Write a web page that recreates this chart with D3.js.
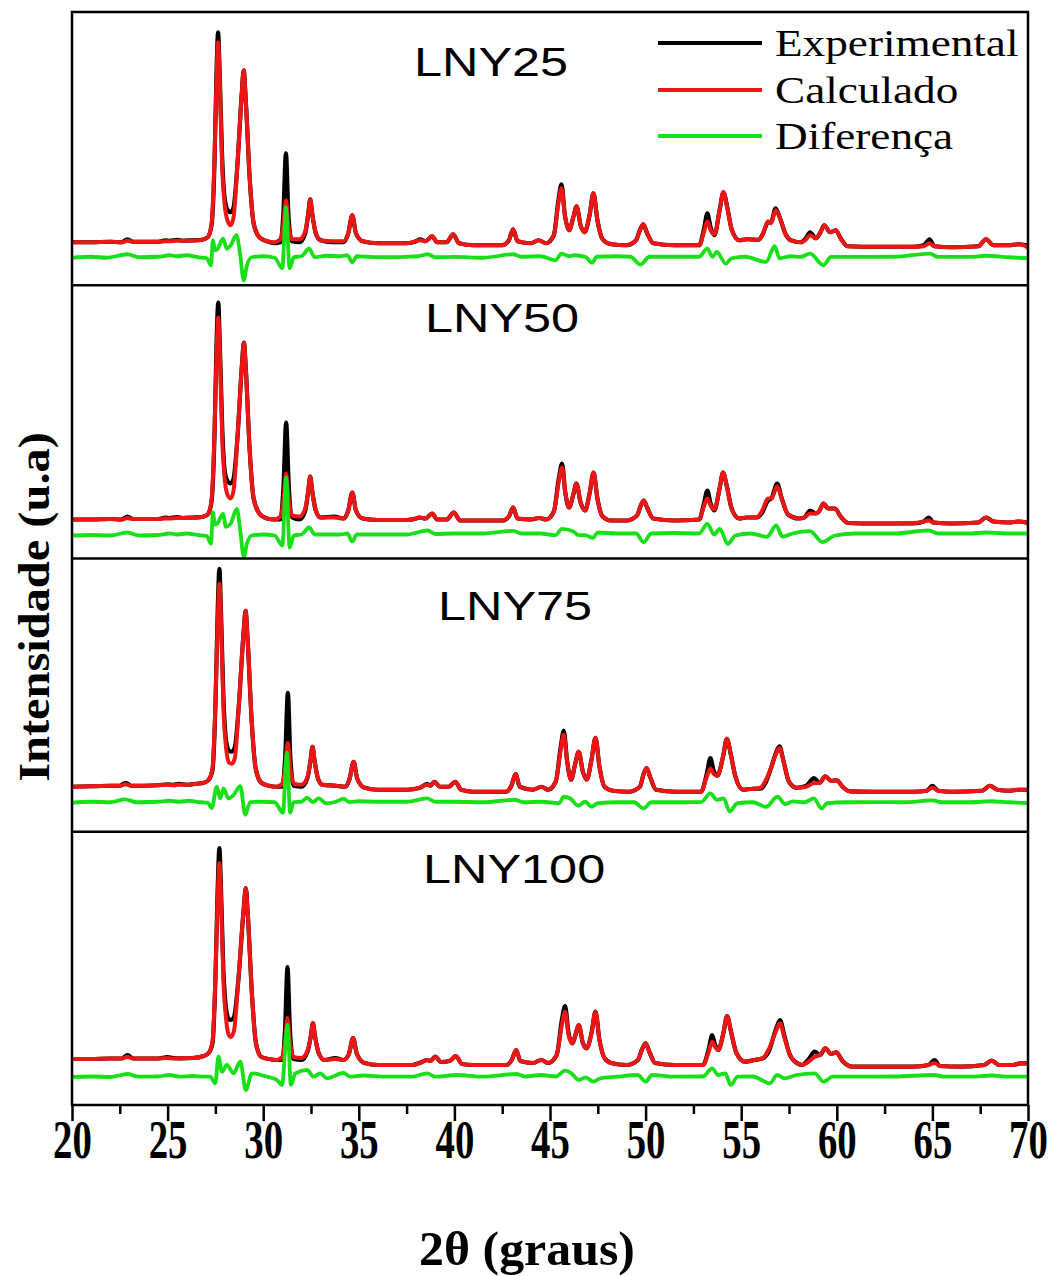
<!DOCTYPE html>
<html>
<head>
<meta charset="utf-8">
<script src="https://cdn.jsdelivr.net/npm/d3@7"></script>
<style>
  body { margin: 0; background: #fff; }
  svg { display: block; }
</style>
</head>
<body>
<svg id="chart" width="1060" height="1276"></svg>
<script>
// ---- Data: Rietveld refinement profiles, [2θ, observed, calculated] in a.u. ----
const samples = ["LNY25", "LNY50", "LNY75", "LNY100"];
const seriesNames = ["Experimental", "Calculado", "Diferença"];
const xTicks = [20, 25, 30, 35, 40, 45, 50, 55, 60, 65, 70];
const xMinorTicks = [22.5, 27.5, 32.5, 37.5, 42.5, 47.5, 52.5, 57.5, 62.5, 67.5];

const lny25Profile = [
  [20.0,43,43],[21.0,43,43],[22.0,43.5,43.5],[22.6,43,43],[22.9,46,44.5],[23.2,43.5,43.5],[24.5,43.5,43.5],
  [24.9,45,44],[25.1,44.5,44],[25.5,45.5,44.5],[25.8,44.5,44.5],[26.3,45,44.5],[26.8,45.5,45.5],[27.1,48,48],
  [27.3,60,62],[27.45,120,125],[27.56,215,205],[27.64,253,243],[27.72,215,210],[27.85,130,120],[28.0,85,78],
  [28.15,75,64],[28.3,73,60],[28.45,78,68],[28.65,120,120],[28.88,192,192],[28.98,215,215],[29.08,188,188],
  [29.3,105,105],[29.5,62,62],[29.8,48,48],[30.2,44,44],[30.6,42,43],[30.9,43,46],[31.05,70,60],[31.19,132,85],
  [31.32,70,60],[31.5,44,46],[31.9,43,46],[32.2,52,54],[32.36,72,72],[32.46,86,86],[32.56,72,72],[32.75,52,52],
  [33.0,45,45],[33.6,43,44],[34.2,43,44],[34.45,52,52],[34.66,70,70],[34.85,52,52],[35.2,44,44],[36.0,42,42],
  [37.5,42,42],[38.0,44,44],[38.2,46,45],[38.5,44,44],[38.83,49,49],[39.1,43,43],[39.6,43,43],[39.93,51,51],
  [40.25,42,42],[41.0,40,40],[42.5,40,40],[42.85,45,45],[43.07,56,56],[43.3,44,44],[44.0,42,42],[44.4,45,45],
  [44.8,42,42],[45.2,50,50],[45.44,85,82],[45.6,101,97],[45.78,70,70],[46.0,55,55],[46.22,68,68],[46.39,79,79],
  [46.6,60,60],[46.8,53,53],[47.07,70,70],[47.27,92,92],[47.48,65,65],[47.75,46,46],[48.2,41,41],[49.0,40,40],
  [49.5,45,45],[49.72,56,56],[49.88,61,61],[50.08,52,52],[50.4,42,42],[51.5,40,40],[52.8,40,40],[53.05,56,53],
  [53.23,72,64],[53.4,58,55],[53.6,50,51],[53.87,75,75],[54.07,93,93],[54.27,78,78],[54.5,56,56],[54.9,45,45],
  [55.3,46,46],[55.9,45.5,45.5],[56.15,52,52],[56.4,63,64],[56.56,63,62],[56.8,77,75],[57.05,66,66],
  [57.3,52,52],[57.6,45,45],[58.1,43,43],[58.35,46,45],[58.6,53,50],[58.9,47,47],[59.12,52,52],[59.34,60,60],
  [59.65,53,53],[59.95,55,55],[60.2,47,47],[60.56,39,39],[62.0,38.5,38.5],[64.0,38.5,38.5],[64.55,40,39],
  [64.85,46,42],[65.1,39,39],[66.0,38,38],[67.4,39,39],[67.8,46,46],[68.2,40,40],[69.0,40,40],[69.5,41,41],
  [69.9,40,39],[70.0,38,37]
];
const lny25Diff = [
  [20.0,27.5],[21.0,28.5],[21.8,27.5],[22.9,31],[23.5,28],[24.5,28.5],[25.1,30],[25.5,29],[26.0,30],[26.6,28],
  [27.05,27],[27.27,20],[27.37,45],[27.48,35],[27.6,36],[27.9,46.5],[28.1,36.5],[28.3,40],[28.6,50],[28.8,30],
  [28.98,5],[29.15,20],[29.4,28],[30.0,29],[30.6,27.5],[31.0,17],[31.19,78],[31.38,17],[31.6,28],[32.0,29],
  [32.4,36.5],[32.7,28],[33.3,29.5],[34.0,29],[34.4,30],[34.66,23],[34.9,29],[35.5,28.5],[36.5,28],[37.5,28.5],
  [38.1,29],[38.6,31],[39.0,28],[40.0,28.3],[41.5,27.5],[43.07,31],[43.5,28.5],[44.5,29],[45.29,25],[45.6,31.7],
  [46.0,29],[46.25,30],[46.86,28.3],[47.2,22.3],[47.45,28.5],[48.5,29],[49.2,28.5],[49.74,20.7],[50.2,28.5],
  [51.5,28.5],[52.8,28.5],[53.23,36.7],[53.5,28.5],[53.72,33.3],[54.19,21.7],[54.5,27],[55.2,28.5],[56.3,23.3],
  [56.75,39],[57.0,27],[57.6,29],[58.1,28.3],[58.6,31.7],[59.3,20],[59.7,28.3],[61.0,28.3],[63.0,28.5],
  [64.85,31.7],[65.3,28.3],[67.0,28.3],[67.8,29.5],[69.0,28],[70.0,27]
];

const lny50Profile = [
  [20.0,39,39],[21.0,39,39],[22.0,39.5,39.5],[22.6,39,39],[22.9,42,40.5],[23.2,39.5,39.5],[24.5,39.5,39.5],
  [24.9,41,40],[25.1,40.5,40],[25.5,41.5,40.5],[25.8,40.5,40.5],[26.3,41,40.5],[26.8,41.5,41.5],[27.1,44,44],
  [27.3,57,59],[27.45,120,124],[27.56,216,204],[27.65,256,241],[27.73,216,208],[27.86,130,118],[28.0,86,77],
  [28.15,77,63],[28.3,75,60],[28.45,80,68],[28.65,120,120],[28.89,194,194],[28.99,216,216],[29.09,190,190],
  [29.3,106,106],[29.5,60,60],[29.8,45,45],[30.2,40,40],[30.6,39,39],[30.9,39,42],[31.06,72,58],[31.2,136,85],
  [31.34,72,58],[31.52,41,43],[31.9,39,42],[32.2,48,50],[32.36,68,68],[32.46,82,82],[32.56,68,68],[32.75,48,48],
  [33.0,41,41],[33.7,42,41],[34.2,40,40],[34.45,48,48],[34.66,66,66],[34.85,48,48],[35.2,40,40],[36.0,38.5,38.5],
  [37.5,38.5,38.5],[38.0,40,40],[38.15,41,41],[38.5,40,40],[38.83,45,45],[39.1,39,39],[39.6,39,39],[39.97,46,46],
  [40.3,38,38],[41.0,38,38],[42.5,38,38],[42.85,42,42],[43.07,51,51],[43.3,40,40],[44.0,39,39],[44.43,40.5,40.5],
  [44.8,39,39],[45.2,47,47],[45.46,80,77],[45.63,95,91],[45.8,66,66],[46.0,51,51],[46.22,64,64],[46.38,75,75],
  [46.6,56,56],[46.84,48,48],[47.07,65,65],[47.28,86,86],[47.48,60,60],[47.75,42,42],[48.2,38,38],[49.0,38,38],
  [49.55,43,43],[49.75,53,53],[49.9,58,58],[50.1,50,50],[50.4,40,40],[51.5,38,38],[52.8,39,39],[53.05,55,52],
  [53.23,68,60],[53.4,55,53],[53.59,48,49],[53.87,70,70],[54.05,86,86],[54.25,72,72],[54.5,50,50],[54.9,40,40],
  [55.3,41,41],[55.8,41,41],[56.1,46,48],[56.4,58,60],[56.58,60,60],[56.88,75,72],[57.12,60,60],[57.45,44,44],
  [58.0,40,40],[58.3,41,41],[58.6,48,45],[58.9,45,45],[59.1,48,48],[59.3,55,55],[59.55,50,50],[59.9,50,50],
  [60.2,42,42],[60.6,35.5,35.5],[62.0,35,35],[64.0,35,35.5],[64.55,37,37],[64.8,41,38],[65.05,36,36],[66.0,35,35],
  [67.4,36,36],[67.8,41,41],[68.2,37,37],[69.0,36,36],[69.5,37,37],[69.9,36,36],[70.0,35,35]
];
const lny50Diff = [
  [20.0,23],[21.0,23.5],[22.0,23],[22.9,26],[23.5,23],[24.5,23.5],[25.1,25],[25.5,24],[26.0,25],[26.6,23.5],
  [27.05,22.5],[27.27,14.7],[27.37,46],[27.48,34],[27.6,35],[27.9,44.7],[28.05,31.7],[28.3,35],[28.62,49.7],
  [28.8,28],[28.98,1.7],[29.15,15],[29.4,23],[30.0,24],[30.6,23],[31.0,13],[31.2,81],[31.38,11],[31.6,23],
  [32.0,24],[32.4,31],[32.7,24],[33.3,24],[34.0,24],[34.4,25],[34.66,17],[34.9,24],[35.5,24],[36.5,24],[37.5,24],
  [38.6,28],[39.0,24.5],[40.0,25],[41.5,25],[43.07,27.7],[43.5,25],[44.5,25],[45.28,23.3],[45.63,29.7],
  [46.2,27.3],[46.5,23.3],[46.84,23.3],[47.24,20.7],[47.5,26],[48.5,25],[49.5,25],[49.9,16.3],[50.3,25],
  [51.5,25.5],[52.8,25],[53.23,34.7],[53.59,24],[53.88,29.7],[54.3,14.7],[54.7,23],[55.5,25],[56.35,21.7],
  [56.83,33],[57.15,22],[57.7,25],[58.6,27.3],[59.25,16.3],[59.9,23],[61.0,25],[63.0,25],[64.8,28],[65.3,25],
  [67.0,25],[67.8,26],[69.0,25],[70.0,25]
];

const lny75Profile = [
  [20.0,45,45],[21.0,45.5,45.5],[22.0,46,46],[22.5,46,46],[22.8,49,47.5],[23.1,46,46],[24.5,46.5,46.5],
  [25.0,47.5,47],[25.3,47,46.5],[25.6,48,47],[26.0,47,47],[26.5,48,48],[26.9,49,49],[27.15,52,52],[27.35,62,64],
  [27.5,125,128],[27.62,222,210],[27.71,263,248],[27.79,222,214],[27.92,135,124],[28.07,90,82],[28.22,81,69],
  [28.36,80,68],[28.52,85,74],[28.72,125,125],[28.97,198,198],[29.08,221,221],[29.18,194,194],[29.4,110,110],
  [29.6,64,64],[29.9,49,49],[30.3,46,46],[30.7,45,45],[31.0,45,48],[31.15,75,63],[31.29,139,89],[31.42,75,63],
  [31.6,46,48],[32.0,45,47],[32.32,54,55],[32.48,72,72],[32.58,85,85],[32.68,72,72],[32.87,53,53],[33.1,47,47],
  [33.8,46,46],[34.3,45,45],[34.52,53,53],[34.73,70,70],[34.92,53,53],[35.3,44,44],[36.0,42,42],[37.5,42,42],
  [38.2,44,44],[38.57,48,47],[38.75,46,46],[38.95,50,50],[39.25,45,45],[39.7,45,45],[40.05,50,50],[40.35,42,42],
  [41.0,40,40],[42.7,40,40],[42.98,46,46],[43.2,57.7,57.7],[43.42,45,45],[44.1,42,42],[44.55,45,45],[44.9,42,42],
  [45.3,50,50],[45.56,85,82],[45.72,101,97],[45.9,70,70],[46.1,52,52],[46.32,68,68],[46.5,80,80],[46.72,60,60],
  [46.92,52,52],[47.17,72,72],[47.38,94,94],[47.58,66,66],[47.85,45,45],[48.3,41,41],[49.1,40,40],[49.7,45,45],
  [49.9,58,58],[50.05,63.7,63.7],[50.25,54,54],[50.55,42,42],[51.6,40,40],[52.9,40,40],[53.2,58,55],
  [53.39,73.7,63],[53.56,61,58],[53.75,56,56],[54.05,75,75],[54.25,93,93],[54.45,78,78],[54.7,55,55],
  [55.1,42,42],[55.6,43,43],[56.0,43,44],[56.3,50,52],[56.6,66,66],[56.8,78,77],[57.0,85.3,83.7],[57.22,70,70],
  [57.5,50,50],[57.9,44,44],[58.4,46,45],[58.8,53.7,48.7],[59.1,49,49],[59.4,55.3,55.3],[59.7,51,51],
  [60.0,51.3,51.3],[60.3,45,45],[60.7,40.3,40.3],[62.0,40,40],[64.0,40,40],[64.7,41,41],[65.0,46,44],
  [65.3,41,41],[66.0,40,40],[67.6,41,41],[68.0,46,46],[68.4,42,42],[69.0,41,41],[69.5,42,42],[69.9,42,42],
  [70.0,41,41]
];
const lny75Diff = [
  [20.0,29],[21.0,30],[22.0,29.5],[22.77,32.3],[23.4,29.5],[24.5,30],[25.1,31],[25.6,30],[26.1,31],[26.7,29.5],
  [27.1,29],[27.31,23.7],[27.57,45],[27.75,33.3],[27.92,43.3],[28.18,33.3],[28.45,36.7],[28.8,45.7],[29.06,17],
  [29.32,29.7],[30.0,30],[30.6,29.5],[31.03,19],[31.24,79],[31.41,19],[31.6,29.7],[32.0,30],[32.29,34],
  [32.6,29.7],[32.9,33.3],[33.3,28.3],[33.8,30],[34.2,33],[34.5,29.7],[35.0,30.5],[36.0,30],[37.5,30],
  [38.57,33.3],[39.0,30],[40.0,30],[41.5,29.5],[43.17,32],[43.6,29.5],[44.6,30],[45.47,28.5],[45.72,35],
  [46.08,33],[46.48,26],[46.84,30],[47.18,25],[47.48,28.5],[48.5,29.5],[49.4,29.5],[49.89,23.3],[50.3,29.5],
  [51.5,29.5],[52.9,29.7],[53.39,38.3],[53.73,32],[54.09,33.3],[54.39,20.3],[54.8,28.5],[55.6,29.5],[56.3,25],
  [56.9,35],[57.3,27.7],[57.7,30.3],[58.3,29.5],[58.8,33.3],[59.2,23.3],[59.5,28.5],[60.5,29.5],[62.0,29.7],
  [63.5,29.5],[65.0,31.3],[65.5,29.5],[67.0,29.5],[68.0,30.5],[69.0,29.5],[70.0,28.7]
];

const lny100Profile = [
  [20.0,46,46],[21.0,46,46],[22.0,46.5,46.5],[22.6,46.5,46.5],[22.9,50,48],[23.2,46.5,46.5],[24.5,46.5,46.5],
  [25.0,48,47],[25.3,47,46.5],[25.65,46.7,46.7],[26.3,47,47],[26.9,49,49],[27.15,52,52],[27.35,62,64],
  [27.5,125,128],[27.62,218,207],[27.71,257,242],[27.79,218,208],[27.92,135,124],[28.07,95,84],[28.2,86,70],
  [28.3,85,68],[28.47,88,74],[28.7,125,125],[28.98,196,196],[29.09,217,217],[29.19,192,192],[29.42,108,108],
  [29.62,62,62],[29.9,48,48],[30.3,46,46],[30.7,45,45],[31.0,45,48],[31.14,75,63],[31.27,138,87],[31.4,75,63],
  [31.58,46,48],[32.0,45,47],[32.33,54,55],[32.5,70,70],[32.6,82,82],[32.7,70,70],[32.9,52,52],[33.2,45,45],
  [33.77,47,46],[34.2,45,45],[34.48,51,51],[34.7,67,67],[34.9,51,51],[35.3,42,42],[36.0,40,40],[37.8,40,40],
  [38.3,43,43],[38.57,45,45],[38.75,44,44],[39.0,48.3,48.3],[39.3,43,43],[39.75,44,44],[40.07,49,49],
  [40.4,41,41],[41.0,40,40],[42.7,40,40],[43.0,45,45],[43.23,55,55],[43.45,44,44],[44.1,42,42],[44.54,45,45],
  [44.9,42,42],[45.35,50,50],[45.62,85,80],[45.79,99,93.3],[45.97,72,70],[46.18,61.7,61.7],[46.33,70,70],
  [46.5,80,80],[46.72,62,62],[46.92,56.7,56.7],[47.17,72,72],[47.38,93.3,93.3],[47.58,66,66],[47.85,47,47],
  [48.2,42,42],[49.0,40,40],[49.6,45,45],[49.82,56,56],[50.0,61.7,61.7],[50.2,53,53],[50.5,42,42],[51.5,40,40],
  [53.0,40,40],[53.3,56,53],[53.48,70,63.3],[53.64,60,58],[53.8,55,55],[54.07,72,72],[54.26,89,89],
  [54.46,74,74],[54.75,52,52],[55.2,43.3,43.3],[55.7,45,45],[56.13,46.7,47],[56.45,54,56],[56.82,76,74],
  [57.03,85,81.7],[57.25,70,68],[57.55,50,50],[58.0,41,41],[58.19,40,40],[58.5,45,43],[58.84,53.3,48.3],
  [59.12,50,50],[59.4,56.7,56.7],[59.7,51,51],[59.97,52.7,52.7],[60.3,44,44],[60.81,38.3,38.3],[62.0,38.3,38.3],
  [64.0,38.3,38.3],[64.8,40,40],[65.11,45,42],[65.4,39,39],[66.5,38.3,38.3],[67.7,40,40],[68.1,44.3,44.3],
  [68.5,40,40],[69.2,40,40],[69.6,41.7,41.7],[70.0,41.7,41.7]
];
const lny100Diff = [
  [20.0,28],[21.0,28.5],[22.0,28],[22.9,31],[23.5,28.3],[24.5,28.5],[25.1,30],[25.65,28.3],[26.3,29],[26.9,28.3],
  [27.23,28.3],[27.49,21.7],[27.66,48.3],[27.84,33.3],[28.1,40],[28.45,31.7],[28.8,43.3],[29.09,15],[29.41,31.7],
  [30.19,28.3],[30.72,25],[30.98,20],[31.27,80],[31.45,20],[31.68,31.7],[32.29,35],[32.64,28.3],[32.98,31.7],
  [33.33,26.7],[34.2,32],[34.55,28.3],[35.2,29.5],[36.5,28.3],[37.8,28.3],[38.57,31.7],[39.0,28.3],[40.14,30],
  [41.5,28.3],[43.23,31],[43.7,28.5],[44.54,30],[45.3,28.5],[45.79,34.3],[46.12,31.7],[46.5,25],[46.88,27.7],
  [47.26,23.3],[47.62,26.7],[48.5,28.3],[49.59,30],[50.0,23.3],[50.34,30],[51.5,28.3],[53.0,28.5],[53.48,36.7],
  [53.8,30],[54.17,31.7],[54.45,20],[54.82,28.3],[55.6,28.5],[56.5,21.7],[56.88,30],[57.26,26.7],[57.91,30],
  [58.84,31.7],[59.31,23.3],[59.78,28.3],[61.0,28.3],[63.0,28.5],[65.11,30],[65.6,28.3],[67.0,28.3],[68.1,29.5],
  [69.0,28.3],[70.0,28.3]
];

const profiles = [lny25Profile, lny50Profile, lny75Profile, lny100Profile];
const differences = [lny25Diff, lny50Diff, lny75Diff, lny100Diff];
const intensityMax = 273.25;

// ---- Layout & styles ----
const frame = { left: 72, right: 1028, top: 12, bottom: 1105 };
const colors = { obs: "#000000", calc: "#ee1515", diff: "#18e018" };
const serif = "'Liberation Serif', 'Times New Roman', serif";
const sans = "'Liberation Sans', Arial, sans-serif";

const svg = d3.select("#chart");

const x = d3.scaleLinear().domain([20, 70]).range([frame.left, frame.right]);
const band = d3.scaleBand().domain(samples).range([frame.top, frame.bottom]).padding(0);

const labelPos = {
  LNY25: { x: 414, y: 76 },
  LNY50: { x: 425, y: 332 },
  LNY75: { x: 438, y: 620 },
  LNY100: { x: 423, y: 883 }
};

samples.forEach((name, i) => {
  const top = band(name);
  const bottom = top + band.bandwidth();
  const y = d3.scaleLinear().domain([0, intensityMax]).range([bottom, top]);

  const clipId = "clip-" + name;
  svg.append("clipPath").attr("id", clipId)
    .append("rect")
    .attr("x", frame.left).attr("y", top)
    .attr("width", frame.right - frame.left).attr("height", bottom - top);

  const g = svg.append("g").attr("clip-path", `url(#${clipId})`);

  const obsLine = d3.line().x(d => x(d[0])).y(d => y(d[1])).curve(d3.curveMonotoneX);
  const calcLine = d3.line().x(d => x(d[0])).y(d => y(d[2])).curve(d3.curveMonotoneX);
  const diffLine = d3.line().x(d => x(d[0])).y(d => y(d[1])).curve(d3.curveMonotoneX);

  g.append("path").datum(profiles[i]).attr("d", obsLine)
    .attr("fill", "none").attr("stroke", colors.obs).attr("stroke-width", 4.2)
    .attr("stroke-linejoin", "round");
  g.append("path").datum(profiles[i]).attr("d", calcLine)
    .attr("fill", "none").attr("stroke", colors.calc).attr("stroke-width", 4)
    .attr("stroke-linejoin", "round");
  g.append("path").datum(differences[i]).attr("d", diffLine)
    .attr("fill", "none").attr("stroke", colors.diff).attr("stroke-width", 3.8)
    .attr("stroke-linejoin", "round");

  // sample label
  const lp = labelPos[name];
  svg.append("text")
    .attr("transform", `translate(${lp.x},${lp.y}) scale(1.23,1)`)
    .attr("font-family", sans).attr("font-size", 41)
    .attr("fill", "#000")
    .text(name);

  // panel separator
  if (i > 0) {
    svg.append("line")
      .attr("x1", frame.left).attr("x2", frame.right)
      .attr("y1", top).attr("y2", top)
      .attr("stroke", "#000").attr("stroke-width", 2.5);
  }
});

// outer frame
svg.append("rect")
  .attr("x", frame.left).attr("y", frame.top)
  .attr("width", frame.right - frame.left).attr("height", frame.bottom - frame.top)
  .attr("fill", "none").attr("stroke", "#000").attr("stroke-width", 2.5);

// ---- Legend ----
const legend = svg.append("g");
const legendRows = [
  { label: seriesNames[0], color: colors.obs, y: 43 },
  { label: seriesNames[1], color: colors.calc, y: 90 },
  { label: seriesNames[2], color: colors.diff, y: 136 }
];
legendRows.forEach(r => {
  legend.append("line")
    .attr("x1", 658).attr("x2", 762).attr("y1", r.y).attr("y2", r.y)
    .attr("stroke", r.color).attr("stroke-width", 4.2);
  legend.append("text")
    .attr("transform", `translate(775,${r.y + 13}) scale(1.19,1)`)
    .attr("font-family", serif).attr("font-size", 38)
    .attr("fill", "#000")
    .text(r.label);
});

// ---- X axis ----
const axisG = svg.append("g").attr("transform", `translate(0,${frame.bottom})`);
axisG.call(d3.axisBottom(x).tickValues(xTicks).tickSize(16).tickFormat(d3.format("d")));
axisG.select(".domain").remove();
axisG.selectAll(".tick line").attr("stroke", "#000").attr("stroke-width", 2.5);
axisG.selectAll(".tick text")
  .attr("y", 0).attr("dy", 0)
  .attr("transform", "translate(0,53) scale(1.02,1.42)")
  .attr("font-family", serif).attr("font-weight", "bold")
  .attr("font-size", 38).attr("fill", "#000");

const minorG = svg.append("g").attr("transform", `translate(0,${frame.bottom})`);
minorG.call(d3.axisBottom(x).tickValues(xMinorTicks).tickSize(9).tickFormat(""));
minorG.select(".domain").remove();
minorG.selectAll(".tick line").attr("stroke", "#000").attr("stroke-width", 2.5);

// axis titles
svg.append("text")
  .attr("transform", "translate(527,1265) scale(1.16,1.15)")
  .attr("text-anchor", "middle")
  .attr("font-family", serif).attr("font-weight", "bold").attr("font-size", 43)
  .attr("fill", "#000")
  .text("2θ (graus)");

svg.append("text")
  .attr("transform", "translate(49,607) rotate(-90) scale(1.1,1)")
  .attr("text-anchor", "middle")
  .attr("font-family", serif).attr("font-weight", "bold").attr("font-size", 44)
  .attr("fill", "#000")
  .text("Intensidade (u.a)");
</script>
</body>
</html>
